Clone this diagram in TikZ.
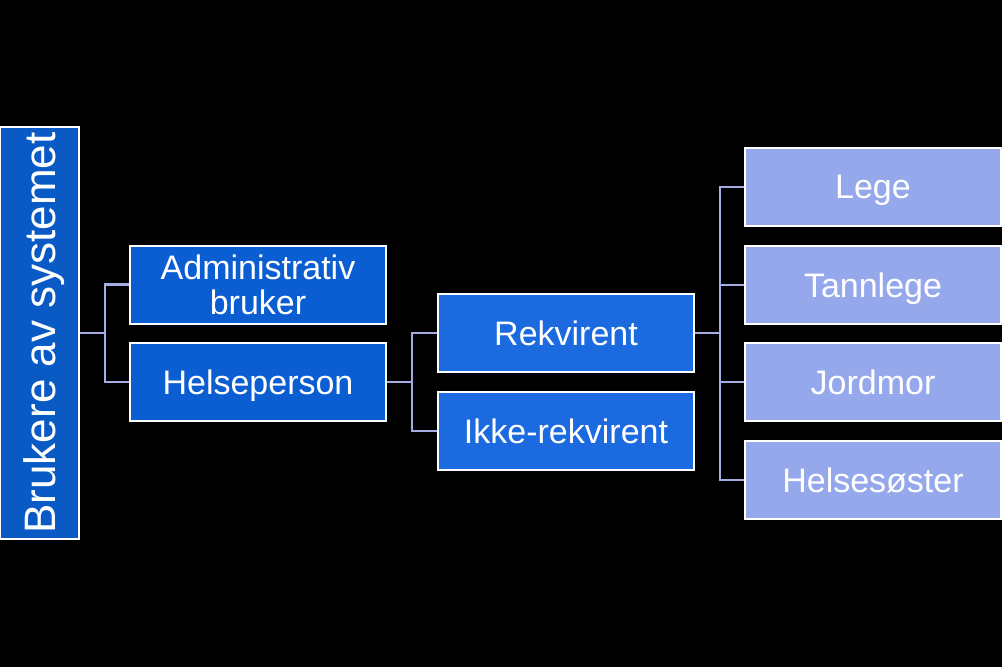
\documentclass[tikz,border=0pt]{standalone}
\usepackage{fontspec}
\setmainfont{Liberation Sans}
\definecolor{rootblue}{HTML}{0A5AC6}
\definecolor{lone}{HTML}{0B5DD2}
\definecolor{ltwo}{HTML}{1C6AE0}
\definecolor{lthree}{HTML}{95A8EC}
\definecolor{conn}{HTML}{A4ACE4}
\begin{document}
\begin{tikzpicture}[x=1pt,y=-1pt,
  box/.style={draw=white,line width=2pt,text=white,align=center,minimum width=256pt,minimum height=78pt,inner sep=0pt,text depth=0pt,font=\fontsize{34}{35}\selectfont},
  link/.style={draw=conn,line width=2.2pt}]
\fill[black] (0,0) rectangle (1002,667);
\useasboundingbox (0,0) rectangle (1002,667);
\node[box,fill=rootblue,minimum width=412pt,minimum height=79pt,rotate=90,font=\fontsize{44}{48}\selectfont] (root) at (39.5,333) {Brukere av systemet};
\node[box,fill=lone] (adm) at (258,284.5) {Administrativ\\bruker};
\node[box,fill=lone] (hp) at (258,382) {Helseperson};
\node[box,fill=ltwo] (rek) at (566,333) {Rekvirent};
\node[box,fill=ltwo] (ikke) at (566,431) {Ikke-rekvirent};
\node[box,fill=lthree] (lege) at (873,187) {Lege};
\node[box,fill=lthree] (tann) at (873,285) {Tannlege};
\node[box,fill=lthree] (jord) at (873,382) {Jordmor};
\node[box,fill=lthree] (hs) at (873,480) {Helsesøster};
\coordinate (j1) at (105,333);
\coordinate (j2) at (412,382);
\coordinate (j3) at (720,333);
\draw[link] (root.south) -- (j1);
\draw[link] (j1) |- (adm.west);
\draw[link] (j1) |- (hp.west);
\draw[link] (hp.east) -- (j2);
\draw[link] (j2) |- (rek.west);
\draw[link] (j2) |- (ikke.west);
\draw[link] (rek.east) -- (j3);
\draw[link] (j3) |- (lege.west);
\draw[link] (j3) |- (tann.west);
\draw[link] (j3) |- (jord.west);
\draw[link] (j3) |- (hs.west);
\end{tikzpicture}
\end{document}
